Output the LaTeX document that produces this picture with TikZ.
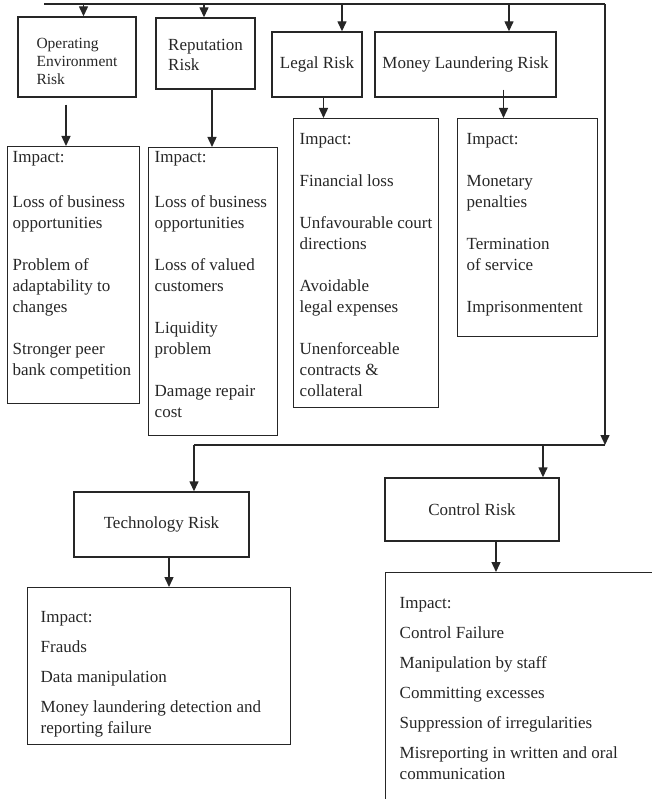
\documentclass[tikz,border=0pt]{standalone}
\usepackage{fontspec}
\setmainfont{Liberation Serif}
\usepackage{xcolor}
\usetikzlibrary{arrows.meta,positioning,calc}
\definecolor{ink}{HTML}{262626}

\begin{document}
\begin{tikzpicture}[x=1pt, y=-1pt,
    riskbox/.style={draw=ink, line width=1.4pt, text=ink, align=left, inner sep=2pt, font=\fontsize{17}{20}\selectfont},
    impactbox/.style={draw=ink, line width=1.4pt, text=ink, anchor=north west, inner sep=0pt, font=\fontsize{17}{21}\selectfont},
    link/.style={draw=ink, line width=1.4pt},
    arr/.style={link, -{Triangle[length=10pt, width=9pt]}}]
    \clip (0,0) rectangle (652,799);

    % Risk boxes, first row
    \node[riskbox, minimum width=118, minimum height=80, font=\fontsize{15.5}{18}\selectfont] (oper) at (77,57)
        {\raisebox{-6pt}[\height][\depth]{\begin{tabular}{@{}l@{}}Operating\\Environment\\Risk\end{tabular}}};
    \node[riskbox, minimum width=99, minimum height=71] (repu) at (205.5,53.5)
        {\raisebox{-3pt}[\height][\depth]{\begin{tabular}{@{}l@{}}Reputation\\Risk\end{tabular}}};
    \node[riskbox, minimum width=90, minimum height=65] (legal) at (317,64.5) {Legal Risk};
    \node[riskbox, minimum width=181, minimum height=65] (laund) at (465.5,64.5) {Money Laundering Risk};

    % Impact boxes, first row
    \node[impactbox] (operimp) at (7,146) {\parbox[c][257pt][t]{132pt}{\leftskip=5pt \vspace*{5pt}Impact:\\[24pt]
        Loss of business\\ opportunities\\[21pt]
        Problem of\\ adaptability to\\ changes\\[21pt]
        Stronger peer\\ bank competition}};
    \node[impactbox] (repuimp) at (148,147) {\parbox[c][288pt][t]{129pt}{\leftskip=6pt \vspace*{4pt}Impact:\\[24pt]
        Loss of business\\ opportunities\\[21pt]
        Loss of valued\\ customers\\[21pt]
        Liquidity\\ problem\\[21pt]
        Damage repair\\ cost}};
    \node[impactbox] (legalimp) at (293,118) {\parbox[c][289pt][t]{145pt}{\leftskip=6pt \vspace*{15pt}Impact:\\[21pt]
        Financial loss\\[21pt]
        Unfavourable court\\ directions\\[21pt]
        Avoidable\\ legal expenses\\[21pt]
        Unenforceable\\ contracts \&\\ collateral}};
    \node[impactbox] (laundimp) at (457,118) {\parbox[c][218pt][t]{140pt}{\leftskip=9pt \vspace*{15pt}Impact:\\[21pt]
        Monetary\\ penalties\\[21pt]
        Termination\\ of service\\[21pt]
        Imprisonmentent}};

    % Risk boxes, second row
    \node[riskbox, minimum width=175, minimum height=65] (tech) at (161.5,524.5) {Technology Risk};
    \node[riskbox, minimum width=174, minimum height=63] (ctrl) at (472,509.5) {Control Risk};

    % Impact boxes, second row
    \node[impactbox] (techimp) at (27,587) {\parbox[c][157pt][t]{263pt}{\leftskip=13pt \vspace*{24pt}Impact:\\[9pt]
        Frauds\\[9pt]
        Data manipulation\\[9pt]
        Money laundering detection and\\ reporting failure}};
    \node[impactbox] (ctrlimp) at (385,572) {\parbox[c][260pt][t]{300pt}{\leftskip=14pt \vspace*{25pt}Impact:\\[9pt]
        Control Failure\\[9pt]
        Manipulation by staff\\[9pt]
        Committing excesses\\[9pt]
        Suppression of irregularities\\[9pt]
        Misreporting in written and oral\\ communication}};

    % Main line
    \coordinate (topl) at (44,4);
    \coordinate (topr) at (605,4);
    \coordinate (botr) at (605,445);
    \coordinate (botl) at (194,445);
    \coordinate (ctrlj) at (543,445);
    \draw[link] (topl) -- (topr);
    \draw[arr] (topr) -- (botr);
    \draw[link] (botr) -- (botl);

    % Arrows into risk boxes
    \draw[arr] ([xshift=6.5pt]oper.north |- topl) -- ([xshift=6.5pt]oper.north);
    \draw[arr] ([xshift=-1.5pt]repu.north |- topl) -- ([xshift=-1.5pt]repu.north);
    \draw[arr] ([xshift=25pt]legal.north |- topl) -- ([xshift=25pt]legal.north);
    \draw[arr] ([xshift=43.5pt]laund.north |- topl) -- ([xshift=43.5pt]laund.north);
    \draw[arr] (botl) -- (botl |- tech.north);
    \draw[arr] (ctrlj) -- (ctrlj |- ctrl.north);

    % Arrows into impact boxes
    \coordinate (opers) at ([xshift=-11pt,yshift=-7pt]oper.south);
    \coordinate (repus) at ([xshift=6.5pt]repu.south);
    \coordinate (legals) at ([xshift=6.5pt]legal.south);
    \coordinate (launds) at ([xshift=38pt,yshift=8pt]laund.south);
    \coordinate (techs) at ([xshift=7.5pt]tech.south);
    \coordinate (ctrls) at ([xshift=24pt]ctrl.south);
    \draw[arr] (opers) -- (opers |- operimp.north);
    \draw[arr] (repus) -- (repus |- repuimp.north);
    \draw[arr] (legals) -- (legals |- legalimp.north);
    \draw[arr] (launds) -- (launds |- laundimp.north);
    \draw[arr] (techs) -- (techs |- techimp.north);
    \draw[arr] (ctrls) -- (ctrls |- ctrlimp.north);
\end{tikzpicture}
\end{document}
